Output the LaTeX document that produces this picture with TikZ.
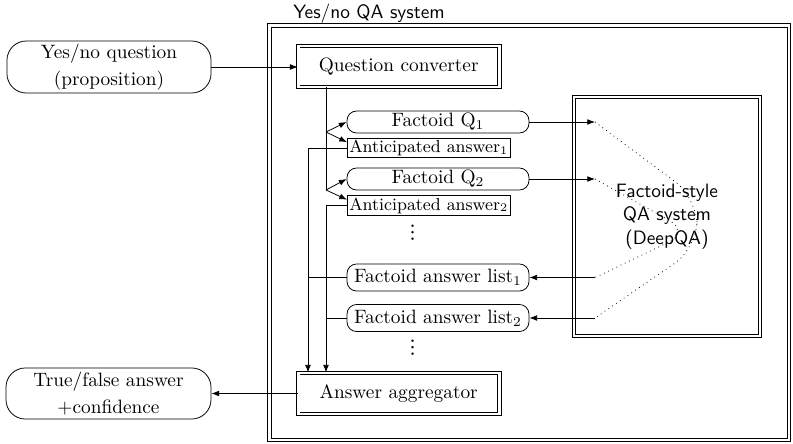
\documentclass[tikz,border=0pt]{standalone}
\usepackage{fontspec}
\newfontfamily\lmmath{Latin Modern Math}
\usetikzlibrary{arrows.meta,calc}
\begin{document}
\begin{tikzpicture}[x=0.517pt,y=-0.517pt,
  >={Latex[length=4pt,width=3pt]},
  dbox/.style={draw,double,double distance=1.5pt,inner sep=0pt},
  rbox/.style={draw,rounded corners=10pt,align=center,inner sep=0pt},
  fbox/.style={draw,rounded corners=5pt,inner sep=0pt,minimum width=94.1pt},
  abox/.style={draw,inner sep=1pt,font=\small,minimum height=9.3pt},
  dotsnode/.style={inner sep=0pt,font=\lmmath\fontsize{12}{14}\selectfont},
]
\useasboundingbox (0,0) rectangle (793,444);
% outer system box
\node[dbox,minimum width=268.6pt,minimum height=214.3pt] (sys) at (529.25,232.75) {};
\node[anchor=base west,inner sep=0pt,font=\sffamily] (syslabel) at (293,18.5) {Yes/no QA system};
% nodes
\node[rbox,minimum width=105.5pt,minimum height=26.9pt] (qin) at (109,67) {Yes/no question\\[2pt](proposition)};
\node[dbox,minimum width=104pt,minimum height=21.2pt] (qc) at (398.7,66.5) {Question converter};
\node[fbox,minimum height=11.4pt] (fq1) at (438,122) {Factoid Q$_1$};
\node[abox,anchor=west] (ant1) at (347,148) {Anticipated answer$_1$};
\node[fbox,minimum height=11.4pt] (fq2) at (438,179) {Factoid Q$_2$};
\node[abox,anchor=west] (ant2) at (347,205.5) {Anticipated answer$_2$};
\node[dotsnode] (dots1) at (413,233) {⋮};
\node[fbox,minimum height=14pt] (fl1) at (438,277.5) {Factoid answer list$_1$};
\node[fbox,minimum height=14pt] (fl2) at (438,318) {Factoid answer list$_2$};
\node[dotsnode] (dots2) at (413,348) {⋮};
\node[dbox,minimum width=96.2pt,minimum height=123.6pt,align=center,font=\sffamily] (dqa) at (667,216.5) {Factoid-style\\QA system\\(DeepQA)};
\node[dbox,minimum width=104pt,minimum height=21.2pt] (agg) at (398.7,393.5) {Answer aggregator};
\node[rbox,minimum width=106pt,minimum height=26.4pt] (tfa) at (108.5,393.5) {True/false answer\\[1.5pt]+confidence};
% helper coordinates
\coordinate (f1) at (326,132);
\coordinate (f2) at (326,190);
\coordinate (xa) at (308,0);
\coordinate (dx) at (595,0);
\coordinate (c1) at (697,198);
\coordinate (c2) at (697,248);
\coordinate (c3) at (690,232);
% connectors
\draw[->] (qin.east) -- (qin.east -| qc.west);
\draw (f1 |- qc.south) -- (f2);
\draw[->] (f1) -- (fq1.west);
\draw[->] (f1) -- ([yshift=3pt]ant1.west);
\draw[->] (f2) -- (fq2.west);
\draw[->] (f2) -- ([yshift=3pt]ant2.west);
\draw[->] (ant1.west) -| (xa |- agg.north);
\draw (fl1.west) -- (xa |- fl1.west);
\draw[->] (ant2.west) -| (f2 |- agg.north);
\draw (fl2.west) -- (f2 |- fl2.west);
\draw[->] (agg.west) -- (agg.west -| tfa.east);
\draw[->] (fq1.east) -- (fq1.east -| dx);
\draw[->] (fq2.east) -- (fq2.east -| dx);
\draw[<-] (fl1.east) -- (fl1.east -| dx);
\draw[<-] (fl2.east) -- (fl2.east -| dx);
\draw[dotted,rounded corners=14pt] (fq1.east -| dx) -- (c1) -- (c2) -- (fl2.east -| dx);
\draw[dotted,rounded corners=12pt] (fq2.east -| dx) -- (c3) -- (fl1.east -| dx);
\end{tikzpicture}
\end{document}
